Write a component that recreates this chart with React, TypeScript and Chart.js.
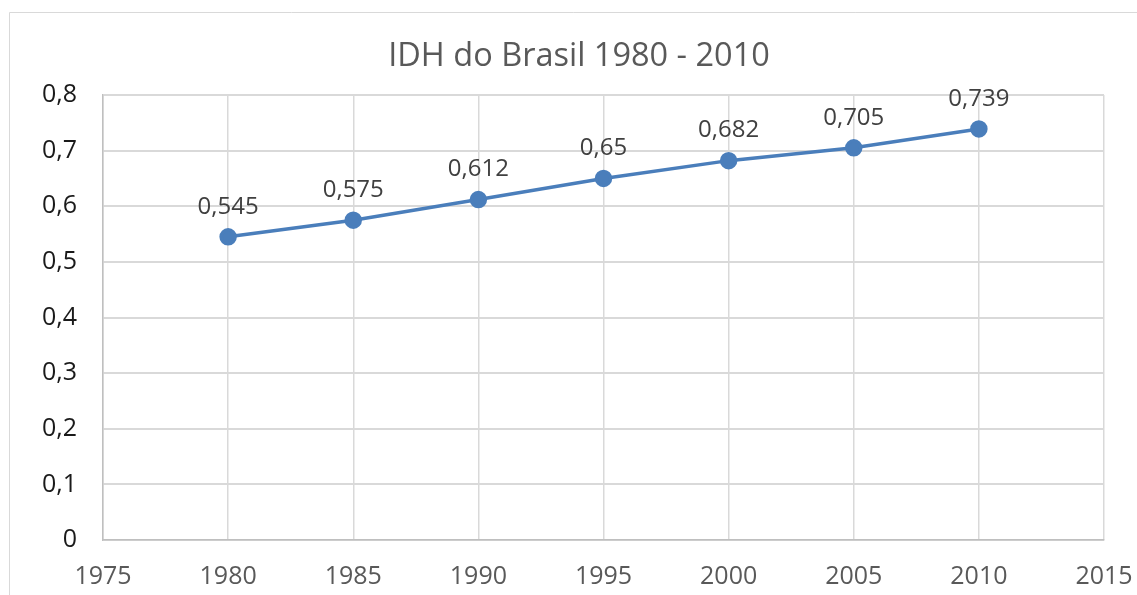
import React, { useEffect, useRef } from "react";
import { Chart, registerables } from "chart.js";

Chart.register(...registerables);

const chartTitle = "IDH do Brasil 1980 - 2010";
const years = [1980, 1985, 1990, 1995, 2000, 2005, 2010];
const idhValues = [0.545, 0.575, 0.612, 0.65, 0.682, 0.705, 0.739];
const xTickValues = [1975, 1980, 1985, 1990, 1995, 2000, 2005, 2010, 2015];
const yTickValues = [0, 0.1, 0.2, 0.3, 0.4, 0.5, 0.6, 0.7, 0.8];

const FONT = "'Open Sans', 'Noto Sans', sans-serif";
const fmt = (v: number) => String(Math.round(v * 1000) / 1000).replace(".", ",");

const framePlugin = {
  id: "frame",
  beforeDraw(chart: any) {
    const ctx = chart.ctx;
    ctx.save();
    ctx.fillStyle = "#ffffff";
    ctx.fillRect(0, 0, chart.width, chart.height);
    ctx.strokeStyle = "#d9d9d9";
    ctx.lineWidth = 1;
    ctx.beginPath();
    ctx.moveTo(9.5, chart.height);
    ctx.lineTo(9.5, 12.5);
    ctx.lineTo(chart.width, 12.5);
    ctx.stroke();
    // chart title, centred on the outer chart frame
    ctx.font = `32.5px ${FONT}`;
    ctx.fillStyle = "#595959";
    ctx.textAlign = "center";
    ctx.textBaseline = "middle";
    ctx.fillText(chartTitle, 579, 57);
    ctx.restore();
  },
};

const labelPlugin = {
  id: "pointLabels",
  afterDatasetsDraw(chart: any) {
    const ctx = chart.ctx;
    const meta = chart.getDatasetMeta(0);
    ctx.save();
    ctx.font = `24px ${FONT}`;
    ctx.fillStyle = "#404040";
    ctx.textAlign = "center";
    ctx.textBaseline = "middle";
    meta.data.forEach((pt: any, i: number) => {
      ctx.fillText(fmt(idhValues[i]), pt.x, pt.y - 30);
    });
    ctx.restore();
  },
};

export default function App() {
  const ref = useRef<HTMLCanvasElement | null>(null);
  useEffect(() => {
    if (!ref.current) return;
    const chart = new Chart(ref.current, {
      type: "line",
      data: {
        datasets: [
          {
            label: "IDH",
            data: years.map((y, i) => ({ x: y, y: idhValues[i] })),
            borderColor: "#4a7ebb",
            backgroundColor: "#4a7ebb",
            borderWidth: 3.5,
            pointRadius: 7,
            pointHoverRadius: 7,
            pointBackgroundColor: "#4a7ebb",
            pointBorderColor: "#4a7ebb",
            tension: 0,
          },
        ],
      },
      options: {
        responsive: false,
        animation: false,
        devicePixelRatio: 1,
        layout: { padding: { left: 0, right: 33, top: 95, bottom: 0 } },
        plugins: {
          legend: { display: false },
          tooltip: { enabled: false },
          title: { display: false },
        },
        scales: {
          x: {
            type: "linear",
            min: xTickValues[0],
            max: xTickValues[xTickValues.length - 1],
            afterBuildTicks: (axis: any) => {
              axis.ticks = xTickValues.map((v) => ({ value: v }));
            },
            afterFit: (axis: any) => {
              axis.height = 55;
              axis.paddingLeft = 0;
              axis.paddingRight = 0;
            },
            ticks: {
              color: "#595959",
              font: { family: FONT, size: 25 },
              padding: 22,
              maxRotation: 0,
              callback: (v: any) => String(v),
            },
            grid: { color: "#d9d9d9", lineWidth: 1.5, drawTicks: false },
            border: { color: "#bfbfbf", width: 1.5 },
          },
          y: {
            min: yTickValues[0],
            max: yTickValues[yTickValues.length - 1],
            afterBuildTicks: (axis: any) => {
              axis.ticks = yTickValues.map((v) => ({ value: v }));
            },
            afterFit: (axis: any) => {
              axis.width = 103;
              axis.paddingTop = 0;
              axis.paddingBottom = 0;
            },
            ticks: {
              color: "#1a1a1a",
              font: { family: FONT, size: 25 },
              padding: 26,
              callback: (v: any) => fmt(Number(v)),
            },
            grid: { color: "#d9d9d9", lineWidth: 2, drawTicks: false },
            border: { color: "#bfbfbf", width: 1.5 },
          },
        },
      },
      plugins: [framePlugin, labelPlugin],
    });
    return () => chart.destroy();
  }, []);
  return (
    <div style={{ position: "absolute", left: 0, top: 0, width: 1137, height: 595, overflow: "hidden", background: "#fff" }}>
      <canvas ref={ref} width={1137} height={595} style={{ display: "block" }} />
    </div>
  );
}
